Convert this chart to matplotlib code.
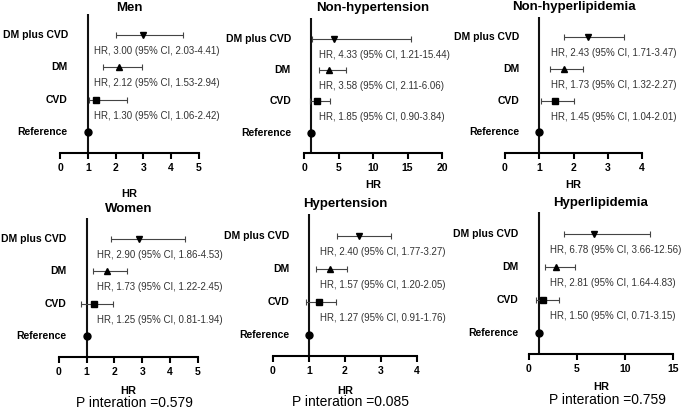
"""
Forest plots of HR by subgroup (DM, CVD, DM plus CVD vs reference)
"""
import matplotlib
matplotlib.use('Agg')
import matplotlib.pyplot as plt

plt.rcParams['font.family'] = ['Liberation Sans', 'DejaVu Sans']

PANELS = ['Men', 'Non-hypertension', 'Non-hyperlipidemia',
          'Women', 'Hypertension', 'Hyperlipidemia']
GROUPS = ['DM plus CVD', 'DM', 'CVD']
HR = [[3.00, 2.12, 1.30], [4.33, 3.58, 1.85], [2.43, 1.73, 1.45],
      [2.90, 1.73, 1.25], [2.40, 1.57, 1.27], [6.78, 2.81, 1.50]]
CI_LOW = [[2.03, 1.53, 1.06], [1.21, 2.11, 0.90], [1.71, 1.32, 1.04],
          [1.86, 1.22, 0.81], [1.77, 1.20, 0.91], [3.66, 1.64, 0.71]]
CI_HIGH = [[4.41, 2.94, 2.42], [15.44, 6.06, 3.84], [3.47, 2.27, 2.01],
           [4.53, 2.45, 1.94], [3.27, 2.05, 1.76], [12.56, 4.83, 3.15]]
P_INTER = [None, None, None, '0.579', '0.085', '0.759']
X_MAX = [5, 20, 4, 5, 4, 15]
X_STEP = [1, 5, 1, 1, 1, 5]
MARKERS = ['v', '^', 's']

# layout in pixels: left, y of x-axis line, width, row spacing
BOXES = [(60, 153, 139, 32.3), (304, 153, 138, 31.3), (505, 153, 137, 31.7),
         (58.7, 357, 139.3, 32.3), (273, 356, 144, 33), (529, 354, 144, 33)]
TEXT_DX = [6, 8, 12, 10, 11, 11]
HR_DY = [41, 32, 32, 34, 35, 33]
TITLE_BASE = [11, 11, 10, 212, 207, 206]

W, H = 685, 412


def draw_panel(fig, k):
    left, axis_y, width, unit = BOXES[k]
    ax = fig.add_axes([left / W, (H - axis_y) / H, width / W, 4.3 * unit / H])
    ax.set_xlim(0, X_MAX[k])
    ax.set_ylim(0.35, 4.65)

    ys = [4, 3, 2]
    for i in range(3):
        hr = HR[k][i]
        err = [[hr - CI_LOW[k][i]], [CI_HIGH[k][i] - hr]]
        ax.errorbar([hr], [ys[i]], xerr=err, fmt=MARKERS[i], color='black',
                    ecolor='#444444', elinewidth=0.8, capsize=2.5, capthick=0.8,
                    markersize=5, zorder=3, clip_on=False)
        txt = "HR, %.2f (95%% CI, %.2f-%.2f)" % (hr, CI_LOW[k][i], CI_HIGH[k][i])
        ax.annotate(txt, xy=(1, ys[i]), xytext=(TEXT_DX[k], -16),
                    textcoords='offset pixels', ha='left', va='center',
                    fontsize=7.0, color='#333333')
    ax.plot([1], [1], 'o', color='black', markersize=5, zorder=3, clip_on=False)

    for lab, y in zip(GROUPS + ['Reference'], ys + [1]):
        ax.annotate(lab, xy=(1, y), xytext=(-20, 0), textcoords='offset pixels',
                    ha='right', va='center', fontsize=7.5, fontweight='bold')

    ax.axvline(1, color='#111111', lw=1.5, zorder=2)
    for s in ['left', 'right', 'top']:
        ax.spines[s].set_visible(False)
    ax.spines['bottom'].set_linewidth(1.5)
    ax.set_yticks([])
    ax.set_xticks(range(0, X_MAX[k] + 1, X_STEP[k]))
    ax.tick_params(axis='x', direction='out', length=4, width=1.5, labelsize=7.5, pad=3)
    for t in ax.get_xticklabels():
        t.set_fontweight('bold')

    fig.text((left + width / 2) / W, 1 - TITLE_BASE[k] / H, PANELS[k],
             ha='center', va='baseline', fontsize=9.5, fontweight='bold')

    ax.annotate('HR', xy=(0.5, 0), xycoords='axes fraction', xytext=(0, -HR_DY[k]),
                textcoords='offset pixels', ha='center', va='center',
                fontsize=8, fontweight='bold')
    if P_INTER[k] is not None:
        ax.annotate('P interation =' + P_INTER[k], xy=(0.5, 0), xycoords='axes fraction',
                    xytext=(6, -46), textcoords='offset pixels', ha='center',
                    va='center', fontsize=10)


def main():
    fig = plt.figure(figsize=(W / 100, H / 100), dpi=100)
    for k in range(len(PANELS)):
        draw_panel(fig, k)
    fig.savefig('out.png', dpi=100)
    plt.close(fig)


if __name__ == '__main__':
    main()
